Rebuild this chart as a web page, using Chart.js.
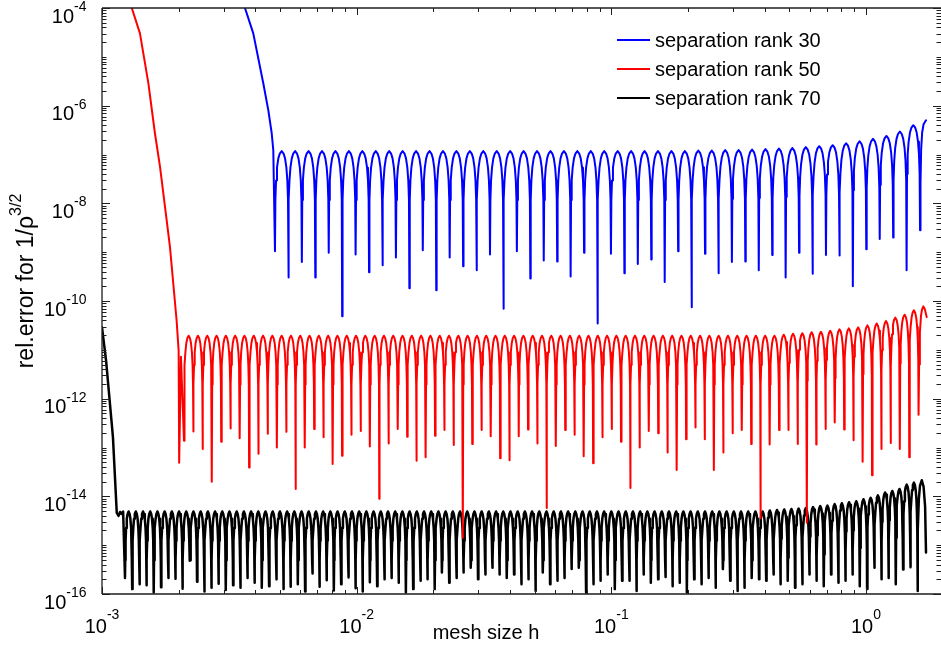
<!DOCTYPE html>
<html>
<head>
<meta charset="utf-8">
<title>rel. error vs mesh size</title>
<script src="https://cdn.jsdelivr.net/npm/chart.js@4.4.1/dist/chart.umd.min.js"></script>
<style>
html,body{margin:0;padding:0;background:#fff;}
#wrap{width:941px;height:648px;position:relative;}
</style>
</head>
<body>
<div id="wrap"><canvas id="chart"></canvas></div>
<script>
// all values are log10 of the plotted quantity (h on x, rel. error on y)

const seriesNames = ["separation rank 30", "separation rank 50", "separation rank 70"];
const xTickExps = [-3, -2, -1, 0];
const yTickExps = [-16, -14, -12, -10, -8, -6, -4];

// shape of one oscillation hump: position inside the period, drop below the hump top
const arcT = [0.03, 0.08, 0.15, 0.25, 0.36, 0.5, 0.64, 0.75, 0.85, 0.92, 0.97];
const arcDrop = [-1.0, -0.6, -0.34, -0.15, -0.05, 0, -0.05, -0.15, -0.34, -0.6, -1.0];

// rank 30 (blue)
const rank30Lead = [[-2.46,-3.65],[-2.4386,-4.0],[-2.406,-4.52],[-2.3667,-5.54],[-2.347,-6.09],[-2.3337,-6.56],[-2.3274,-6.91]];
const rank30First = -2.3208;
const rank30Step = 0.05277;
const rank30Troughs = [
-8.98,-9.52,-9.20,-9.52,-9.01,-10.31,-9.05,-9.41,-9.27,-9.11,-9.74,-8.96,-9.78,-9.11,-9.29,-9.37,
-9.05,-10.16,-8.98,-9.54,-9.17,-9.19,-9.50,-9.01,-10.46,-9.03,
-9.43,-9.24,-9.15,-9.61,-8.98,-10.13,-9.03,-9.43,-9.20,-9.19,-9.37,-9.06,-9.52,-9.01,-9.44,-9.06,-9.07,-9.70,-8.94,-8.73,-8.70,-9.37,-8.55];
const rank30Peaks = [
-6.93,-6.93,-6.93,-6.93,-6.93,-6.93,-6.93,-6.93,-6.93,-6.93,-6.93,-6.93,-6.93,-6.93,-6.93,-6.93,
-6.93,-6.93,-6.93,-6.93,-6.93,-6.93,-6.93,-6.93,-6.93,-6.93,-6.93,-6.93,-6.93,-6.93,-6.93,
-6.92,-6.92,-6.91,-6.91,-6.90,-6.89,-6.88,-6.87,-6.85,-6.83,-6.81,-6.77,-6.73,-6.68,-6.62,-6.53,-6.40];
const rank30Tail = [[0.2140,-7.6],[0.2165,-6.9],[0.2205,-6.55],[0.2260,-6.38],[0.2356,-6.30]];

// rank 50 (red)
const rank50Lead = [[-2.91,-3.53],[-2.883,-4.0],[-2.851,-4.52],[-2.818,-5.54],[-2.792,-6.57],[-2.772,-7.26],[-2.746,-8.35],[-2.733,-8.90],[-2.707,-10.40],[-2.699,-11.02],[-2.697,-13.31],[-2.690,-11.14]];
const rank50First = -2.678;
const rank50Step = 0.03651;
const rank50Troughs = [
-12.86,-12.67,-13.03,-13.70,-12.88,-12.61,-12.81,-13.41,-13.13,-12.72,-13.00,-12.68,-13.85,-13.00,-12.62,-12.79,
-13.34,-13.17,-12.74,-12.66,-12.98,-14.05,-12.92,-12.62,-12.78,-13.27,-13.20,-12.76,-12.64,-12.95,-14.85,-12.93,
-12.64,-12.77,-13.22,-13.26,-12.77,-12.63,-12.92,-14.24,-12.97,-12.64,-12.74,-13.18,-13.32,-12.79,-12.62,-12.88,
-13.83,-13.00,-12.66,-12.71,-13.10,-13.46,-12.83,-12.59,-12.83,-13.46,-13.10,-12.71,-12.64,-12.93,-14.45,-12.94,
-12.64,-12.64,-12.93,-14.54,-12.94,-12.62,-12.49,-12.63,-12.85,-13.29,-13.57,-13.03,-12.91,-13.03,-13.20,-12.33];
const rank50Peaks = [
-10.71,-10.71,-10.71,-10.71,-10.71,-10.71,-10.71,-10.71,-10.71,-10.71,-10.71,-10.71,-10.71,-10.71,-10.71,-10.71,
-10.71,-10.71,-10.71,-10.71,-10.71,-10.71,-10.71,-10.71,-10.71,-10.71,-10.71,-10.71,-10.71,-10.71,-10.71,-10.71,
-10.71,-10.71,-10.71,-10.71,-10.71,-10.71,-10.71,-10.71,-10.71,-10.71,-10.71,-10.71,-10.71,-10.71,-10.71,-10.71,
-10.71,-10.71,-10.71,-10.71,-10.71,-10.71,-10.71,-10.71,-10.71,-10.71,-10.71,-10.71,-10.71,-10.71,-10.71,-10.71,
-10.69,-10.67,-10.66,-10.64,-10.63,-10.61,-10.58,-10.56,-10.54,-10.50,-10.46,-10.41,-10.34,-10.28,-10.19];
const rank50Tail = [[0.2085,-11.3],[0.2115,-10.65],[0.2160,-10.3],[0.2200,-10.17],[0.2252,-10.11],[0.2310,-10.17],[0.2384,-10.33]];

// rank 70 (black)
const rank70Lead = [[-3.0,-10.54],[-2.984,-11.22],[-2.957,-12.79],[-2.942,-14.34],[-2.935,-14.40],[-2.929,-14.32],[-2.923,-14.36],[-2.917,-14.31]];
const rank70First = -2.9097;
const rank70Step = 0.02829;
const rank70Troughs = [
-15.67,-15.90,-15.80,-15.82,-15.97,-15.86,-15.67,-15.69,-15.89,-15.32,-15.75,-15.95,-15.87,-15.79,-15.92,-15.82,
-15.87,-15.67,-15.77,-15.87,-15.84,-15.70,-15.90,-15.85,-15.80,-15.95,-15.58,
-15.85,-15.72,-15.93,-15.80,-15.66,-15.88,-15.95,-15.76,-15.84,-15.70,
-15.67,-15.77,-15.97,-15.90,-15.73,-15.70,-15.90,-15.56,-15.77,-15.67,-15.56,-15.46,-15.70,-15.60,-15.46,-15.60,
-15.67,-15.60,-15.80,-15.70,-15.94,-15.56,-15.80,-15.73,-15.67,-15.49,-15.46,-15.97,-15.80,-15.73,-15.60,-15.90,
-15.73,-15.73,-15.94,-15.60,-15.77,-15.70,-15.65,
-15.84,-15.77,-15.97,-15.70,-15.80,-15.67,-15.87,-15.49,-15.73,-15.94,-15.87,-15.67,-15.70,-15.73,-15.60,-15.80,
-15.73,-15.87,-15.80,-15.60,-15.73,-15.84,-15.60,-15.77,-15.73,-15.60,-15.84,-15.90,-15.46,-15.70,-15.67,-15.80,
-15.50,-15.45,-15.94];
const rank70Peaks = [
-14.31,-14.31,-14.31,-14.31,-14.31,-14.31,-14.31,-14.31,-14.31,-14.31,-14.31,-14.31,-14.31,-14.31,-14.31,-14.31,
-14.31,-14.31,-14.31,-14.31,-14.31,-14.31,-14.31,-14.31,-14.31,-14.31,-14.31,-14.31,-14.31,-14.31,-14.31,-14.31,
-14.31,-14.31,-14.31,-14.31,-14.31,-14.31,-14.31,-14.31,-14.31,-14.31,-14.31,-14.31,-14.31,-14.31,-14.31,-14.31,
-14.31,-14.31,-14.31,-14.31,-14.31,-14.31,-14.31,-14.31,-14.31,-14.31,-14.31,-14.31,-14.31,-14.31,-14.31,-14.31,
-14.31,-14.31,-14.31,-14.31,-14.31,-14.31,-14.31,-14.31,-14.31,-14.31,-14.31,-14.31,-14.31,-14.31,-14.31,-14.31,
-14.31,-14.31,-14.31,-14.31,-14.31,-14.31,-14.31,-14.31,-14.31,
-14.29,-14.28,-14.27,-14.26,-14.25,-14.24,-14.22,-14.20,-14.19,-14.16,-14.14,-14.12,-14.10,-14.06,-14.03,-13.98,
-13.92,-13.89,-13.85,-13.76,-13.72];
const rank70Tail = [[0.2040,-14.7],[0.2075,-14.05],[0.2120,-13.78],[0.2191,-13.67],[0.2260,-13.80],[0.2320,-14.20],[0.2356,-15.15]];

function pt(lx, ly){
return {x: Math.pow(10, lx), y: Math.pow(10, ly)};
}

function buildSeries(lead, first, step, troughs, peaks, tail){
const pts = lead.map(p => pt(p[0], p[1]));
troughs.forEach((t, i) => {
const a = first + i*step;
pts.push(pt(a, t));
if(i < peaks.length){
arcT.forEach((f, k) => pts.push(pt(a + f*step, peaks[i] + arcDrop[k])));
}
});
tail.forEach(p => pts.push(pt(p[0], p[1])));
return pts;
}

const colors = ["#0000ff", "#ff0000", "#000000"];
const widths = [2.0, 2.0, 2.5];
const AXIS = "#1e1e1e";
const FONT = '"Liberation Sans", Arial, Helvetica, sans-serif';

const seriesData = [
buildSeries(rank30Lead, rank30First, rank30Step, rank30Troughs, rank30Peaks, rank30Tail),
buildSeries(rank50Lead, rank50First, rank50Step, rank50Troughs, rank50Peaks, rank50Tail),
buildSeries(rank70Lead, rank70First, rank70Step, rank70Troughs, rank70Peaks, rank70Tail)
];

// axes box, inward ticks, superscript labels, titles and legend
const decorations = {
id: "decorations",
afterDraw(chart){
const ctx = chart.ctx;
const xs = chart.scales.x, ys = chart.scales.y;
const a = chart.chartArea;
ctx.save();
ctx.strokeStyle = AXIS;
ctx.fillStyle = AXIS;
ctx.lineWidth = 1.3;

// box (left, top, bottom)
ctx.beginPath();
ctx.moveTo(a.left, a.top); ctx.lineTo(a.left, a.bottom);
ctx.moveTo(a.left, a.bottom); ctx.lineTo(a.right, a.bottom);
ctx.moveTo(a.left, a.top); ctx.lineTo(a.right, a.top);
ctx.stroke();

// y ticks
ctx.lineWidth = 1;
ctx.beginPath();
for(let n = -16; n <= -4; n++){
for(let m = 1; m <= 9; m++){
const v = m*Math.pow(10, n);
if(v > 1.0001e-4) break;
const py = Math.round(ys.getPixelForValue(v)) + 0.5;
const len = (m === 1 && n % 2 === 0) ? 8 : 4.5;
ctx.moveTo(a.left, py); ctx.lineTo(a.left + len, py);
ctx.moveTo(a.right, py); ctx.lineTo(a.right - len, py);
}
}
// x ticks
for(let n = -3; n <= 0; n++){
for(let m = 1; m <= 9; m++){
const v = m*Math.pow(10, n);
if(v > xs.max) break;
const px = Math.round(xs.getPixelForValue(v)) + 0.5;
const len = m === 1 ? 7 : 4;
ctx.moveTo(px, a.bottom); ctx.lineTo(px, a.bottom - len);
ctx.moveTo(px, a.top); ctx.lineTo(px, a.top + len);
}
}
ctx.stroke();

// tick labels 10^n
ctx.fillStyle = "#000";
ctx.textBaseline = "alphabetic";
ctx.textAlign = "left";
const base = "20px " + FONT, sup = "14px " + FONT;
ctx.font = base;
const baseW = ctx.measureText("10").width;
yTickExps.forEach(e => {
const py = ys.getPixelForValue(Math.pow(10, e));
ctx.font = sup;
const ew = ctx.measureText(String(e)).width;
const right = 86.5;
ctx.fillText(String(e), right - ew, py + 3);
ctx.font = base;
ctx.fillText("10", right - ew - baseW, py + 14.5);
});
xTickExps.forEach(e => {
const px = xs.getPixelForValue(Math.pow(10, e));
ctx.font = sup;
const ew = ctx.measureText(String(e)).width;
const left = px - (baseW + ew)/2;
ctx.fillText(String(e), left + baseW, 619);
ctx.font = base;
ctx.fillText("10", left, 633);
});

// x title
ctx.font = "20px " + FONT;
ctx.textAlign = "center";
ctx.fillText("mesh size h", 486, 639);

// y title with superscript
ctx.save();
ctx.translate(33, 281);
ctx.rotate(-Math.PI/2);
ctx.textAlign = "left";
const mainTxt = "rel.error for 1/\u03c1", supTxt = "3/2";
ctx.font = "23px " + FONT;
const mw = ctx.measureText(mainTxt).width;
ctx.font = "16px " + FONT;
const sw = ctx.measureText(supTxt).width;
const start = -(mw + sw)/2;
ctx.font = "23px " + FONT;
ctx.fillText(mainTxt, start, 0);
ctx.font = "16px " + FONT;
ctx.fillText(supTxt, start + mw, -12);
ctx.restore();

// legend
const legY = [40, 69, 98];
ctx.font = "20px " + FONT;
ctx.textAlign = "left";
ctx.textBaseline = "middle";
seriesNames.forEach((name, i) => {
ctx.strokeStyle = colors[i];
ctx.lineWidth = 2;
ctx.beginPath();
ctx.moveTo(617, legY[i]); ctx.lineTo(650, legY[i]);
ctx.stroke();
ctx.fillStyle = "#000";
ctx.fillText(name, 655, legY[i] + 1);
});

ctx.restore();
}
};

new Chart(document.getElementById("chart"), {
type: "line",
data: {
datasets: seriesNames.map((name, i) => ({
label: name,
data: seriesData[i],
borderColor: colors[i],
backgroundColor: colors[i],
borderWidth: widths[i],
pointRadius: 0,
fill: false,
tension: 0,
borderJoinStyle: "round",
borderCapStyle: "round"
}))
},
options: {
responsive: true,
maintainAspectRatio: false,
animation: false,
events: [],
layout: {padding: {top: 8, right: 0, left: 0, bottom: 0}},
plugins: {legend: {display: false}, tooltip: {enabled: false}},
scales: {
x: {
type: "logarithmic",
min: 1e-3,
max: 1.97,
grid: {display: false},
border: {display: false},
ticks: {display: false},
afterFit(s){ s.height = 54; }
},
y: {
type: "logarithmic",
min: 1e-16,
max: 1e-4,
grid: {display: false},
border: {display: false},
ticks: {display: false},
afterFit(s){ s.width = 102; }
}
}
},
plugins: [decorations]
});
</script>
</body>
</html>
